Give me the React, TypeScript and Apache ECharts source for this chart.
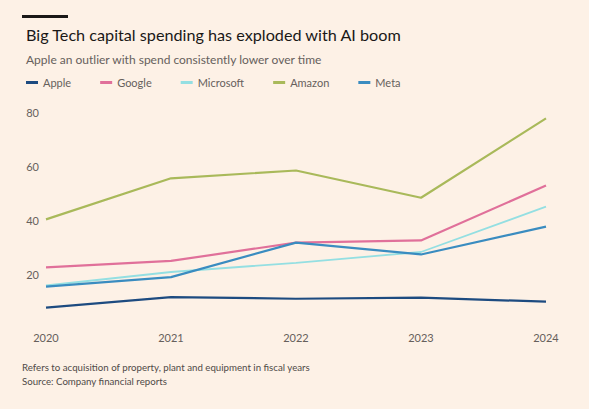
import { useEffect, useRef } from 'react';
import * as echarts from 'echarts';

const years = ['2020', '2021', '2022', '2023', '2024'];
const apple = [7.8, 11.7, 11.1, 11.5, 10.0];
const google = [22.7, 25.1, 31.9, 32.7, 53.0];
const microsoft = [16.0, 21.0, 24.4, 28.4, 45.2];
const amazon = [40.5, 55.7, 58.6, 48.5, 77.9];
const meta = [15.6, 19.1, 31.9, 27.5, 37.8];
const yTicks = [20, 40, 60, 80];

const FONT = 'Lato, "Open Sans", sans-serif';

const seriesDefs = [
  { name: 'Apple', data: apple, color: '#1d4b80' },
  { name: 'Google', data: google, color: '#e0709a' },
  { name: 'Microsoft', data: microsoft, color: '#94dfe2' },
  { name: 'Amazon', data: amazon, color: '#a9b95a' },
  { name: 'Meta', data: meta, color: '#3a8cc0' },
];

export default function App() {
  const chartRef = useRef<HTMLDivElement>(null);

  useEffect(() => {
    if (!chartRef.current) return;
    const myChart = echarts.init(chartRef.current, null, { renderer: 'svg' });

    const option = {
      animation: false,
      backgroundColor: '#fdf1e6',
      textStyle: { fontFamily: FONT },
      title: [
        {
          text: 'Big Tech capital spending has exploded with AI boom',
          left: 21,
          top: 21,
          textStyle: { fontFamily: FONT, fontSize: 16.2, fontWeight: 'normal', color: '#1a1817' },
        },
        {
          text: 'Apple an outlier with spend consistently lower over time',
          left: 21,
          top: 48,
          textStyle: { fontFamily: FONT, fontSize: 12, fontWeight: 'normal', color: '#66605c' },
        },
      ],
      graphic: [
        { type: 'rect', shape: { x: 22, y: 15, width: 46, height: 3 }, style: { fill: '#1a1817' } },
        {
          type: 'text',
          left: 22,
          top: 360,
          style: {
            text: 'Refers to acquisition of property, plant and equipment in fiscal years\nSource: Company financial reports',
            fontFamily: FONT,
            fontSize: 9.7,
            lineHeight: 14,
            fill: '#4f4a47',
          },
        },
      ],
      legend: {
        left: 21,
        top: 72,
        itemWidth: 12,
        itemHeight: 3,
        itemGap: 29,
        icon: 'rect',
        textStyle: { fontFamily: FONT, fontSize: 11, color: '#66605c' },
        data: seriesDefs.map((s) => s.name),
      },
      grid: { left: 46, right: 43, top: 112.7, bottom: 80.3, containLabel: false },
      xAxis: {
        type: 'category',
        data: years,
        boundaryGap: false,
        axisLine: { show: false },
        axisTick: { show: false },
        axisLabel: { color: '#66605c', fontSize: 11, margin: 3, fontFamily: FONT },
      },
      yAxis: {
        type: 'value',
        min: 0,
        max: 80,
        interval: 20,
        splitLine: { show: false },
        axisLine: { show: false },
        axisTick: { show: false },
        axisLabel: {
          color: '#66605c',
          fontSize: 11,
          margin: 7,
          fontFamily: FONT,
          formatter: (v: number) => (yTicks.includes(v) ? String(v) : ''),
        },
      },
      series: seriesDefs.map((s) => ({
        name: s.name,
        type: 'line',
        data: s.data,
        symbol: 'none',
        color: s.color,
        lineStyle: { width: s.name === 'Microsoft' ? 1.8 : 2.2, color: s.color },
      })),
    };

    myChart.setOption(option);

    const handleResize = () => myChart.resize();
    window.addEventListener('resize', handleResize);

    return () => {
      window.removeEventListener('resize', handleResize);
      myChart.dispose();
    };
  }, []);

  return (
    <div
      ref={chartRef}
      style={{ position: 'fixed', left: 0, top: 0, width: 589, height: 409 }}
    />
  );
}
